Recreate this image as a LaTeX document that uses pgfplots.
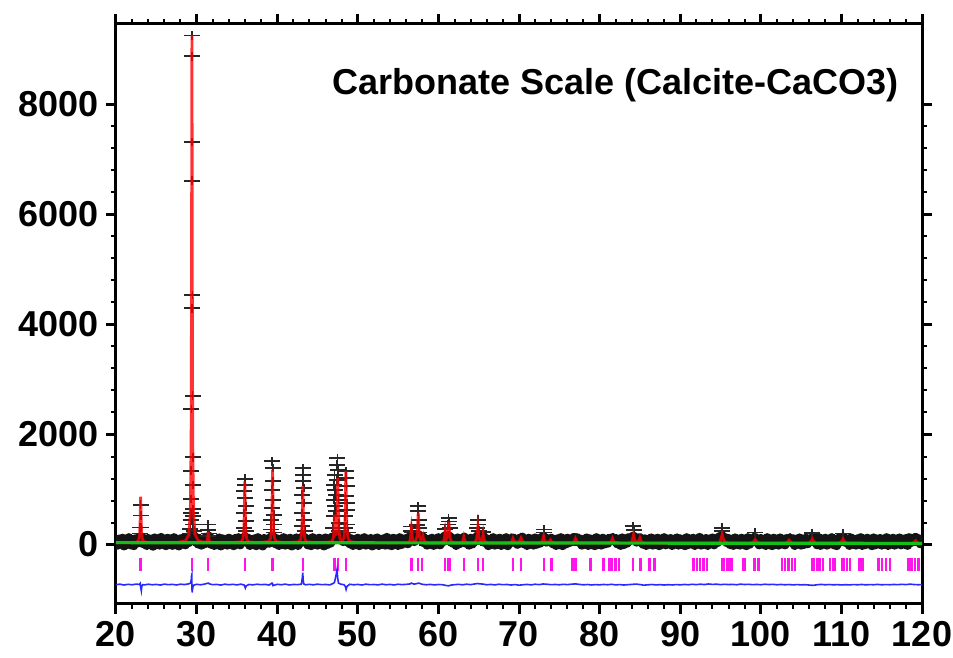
\documentclass[border=0pt]{standalone}
\usepackage{fontspec}
\setmainfont{Liberation Sans}
\usepackage{pgfplots}
\pgfplotsset{compat=1.18}
\definecolor{bkggreen}{RGB}{20,190,20}
\definecolor{diffblue}{RGB}{40,40,255}
\definecolor{tickmag}{RGB}{255,20,235}
\begin{document}
\begin{tikzpicture}
\begin{axis}[
  at={(0,0)}, anchor=south west,
  scale only axis, width=403pt, height=290pt,
  xmin=20, xmax=120, ymin=-1080, ymax=9460,
  xtick={20,30,...,120}, ytick={0,2000,4000,6000,8000},
  minor x tick num=4, minor y tick num=4,
  tick align=outside,
  major tick length=5pt, minor tick length=2.5pt,
  axis line style={line width=1.5pt},
  every tick/.style={black, line width=1.5pt},
  every minor tick/.style={black, line width=1pt},
  tick label style={font=\fontsize{18}{21}\selectfont\bfseries},
  /pgf/number format/assume math mode=true,
  /pgf/number format/1000 sep={},
  scaled y ticks=false,
  clip marker paths=true,
]
% observed, background region (zigzag of the noisy data)
\addplot[black!92, line width=4.8pt, line join=round, mark=+, mark size=4pt, mark options={yscale=0.55, line width=0.9pt, solid}] coordinates {
(20.0,60)(20.2,-5)(20.4,95)(20.6,20)(20.8,110)(21.0,-20)(21.2,75)(21.4,10)(21.6,120)(21.8,0)
(22.0,85)(22.2,-15)(22.4,100)(22.6,30)(22.8,115)(23.0,90)(23.2,130)(23.4,20)(23.6,95)(23.8,-10)
(24.0,105)(24.2,5)(24.4,80)(24.6,-25)(24.8,115)(25.0,15)(25.2,90)(25.4,-5)(25.6,125)(25.8,10)
(26.0,70)(26.2,-15)(26.4,110)(26.6,25)(26.8,95)(27.0,-10)(27.2,120)(27.4,5)(27.6,85)(27.8,-20)
(28.0,100)(28.2,10)(28.4,115)(28.6,0)(28.8,130)(29.0,40)(29.2,150)(29.4,120)(29.6,170)(29.8,60)
(30.0,120)(30.2,15)(30.4,100)(30.6,-5)(30.8,90)(31.0,20)(31.2,130)(31.4,110)(31.6,140)(31.8,10)
(32.0,95)(32.2,-10)(32.4,80)(32.6,15)(32.8,115)(33.0,-20)(33.2,100)(33.4,5)(33.6,90)(33.8,-5)
(34.0,110)(34.2,20)(34.4,75)(34.6,-15)(34.8,105)(35.0,10)(35.2,120)(35.4,0)(35.6,95)(35.8,60)
(36.0,140)(36.2,70)(36.4,110)(36.6,-10)(36.8,85)(37.0,15)(37.2,100)(37.4,-15)(37.6,120)(37.8,5)
(38.0,90)(38.2,-20)(38.4,105)(38.6,25)(38.8,80)(39.0,30)(39.2,125)(39.4,150)(39.6,110)(39.8,20)
(40.0,100)(40.2,-10)(40.4,85)(40.6,10)(40.8,120)(41.0,-5)(41.2,95)(41.4,15)(41.6,110)(41.8,-20)
(42.0,80)(42.2,5)(42.4,115)(42.6,-10)(42.8,100)(43.0,70)(43.2,145)(43.4,60)(43.6,105)(43.8,0)
(44.0,90)(44.2,-15)(44.4,120)(44.6,10)(44.8,75)(45.0,-5)(45.2,110)(45.4,20)(45.6,95)(45.8,-20)
(46.0,115)(46.2,5)(46.4,85)(46.6,30)(46.8,130)(47.0,120)(47.2,160)(47.4,150)(47.6,170)(47.8,90)
(48.0,140)(48.2,60)(48.4,160)(48.6,150)(48.8,120)(49.0,20)(49.2,100)(49.4,-10)(49.6,85)(49.8,10)
(50.0,110)(50.2,-15)(50.4,90)(50.6,15)(50.8,120)(51.0,-5)(51.2,80)(51.4,5)(51.6,105)(51.8,-20)
(52.0,95)(52.2,10)(52.4,115)(52.6,-10)(52.8,85)(53.0,20)(53.2,100)(53.4,-5)(53.6,125)(53.8,0)
(54.0,75)(54.2,-15)(54.4,110)(54.6,15)(54.8,90)(55.0,-10)(55.2,120)(55.4,5)(55.6,95)(55.8,30)
(56.0,105)(56.2,20)(56.4,130)(56.6,140)(56.8,110)(57.0,60)(57.2,150)(57.4,160)(57.6,170)(57.8,90)
(58.0,140)(58.2,40)(58.4,100)(58.6,-5)(58.8,85)(59.0,15)(59.2,110)(59.4,-10)(59.6,95)(59.8,10)
(60.0,120)(60.2,0)(60.4,90)(60.6,60)(60.8,150)(61.0,130)(61.2,160)(61.4,140)(61.6,110)(61.8,30)
(62.0,95)(62.2,-10)(62.4,115)(62.6,20)(62.8,100)(63.0,80)(63.2,130)(63.4,30)(63.6,90)(63.8,-5)
(64.0,110)(64.2,15)(64.4,85)(64.6,70)(64.8,150)(65.0,140)(65.2,130)(65.4,110)(65.6,140)(65.8,40)
(66.0,100)(66.2,-15)(66.4,90)(66.6,10)(66.8,120)(67.0,-5)(67.2,85)(67.4,20)(67.6,110)(67.8,-10)
(68.0,95)(68.2,5)(68.4,120)(68.6,-15)(68.8,90)(69.0,40)(69.2,120)(69.4,100)(69.6,60)(69.8,10)
(70.0,105)(70.2,90)(70.4,130)(70.6,20)(70.8,85)(71.0,-10)(71.2,110)(71.4,15)(71.6,95)(71.8,-5)
(72.0,115)(72.2,10)(72.4,80)(72.6,30)(72.8,120)(73.0,140)(73.2,130)(73.4,50)(73.6,100)(73.8,90)
(74.0,110)(74.2,20)(74.4,85)(74.6,-10)(74.8,100)(75.0,5)(75.2,120)(75.4,-15)(75.6,90)(75.8,15)
(76.0,110)(76.2,40)(76.4,100)(76.6,60)(76.8,125)(77.0,115)(77.2,120)(77.4,50)(77.6,95)(77.8,-5)
(78.0,85)(78.2,10)(78.4,115)(78.6,-10)(78.8,100)(79.0,20)(79.2,90)(79.4,-15)(79.6,120)(79.8,5)
(80.0,95)(80.2,-5)(80.4,110)(80.6,15)(80.8,80)(81.0,30)(81.2,110)(81.4,100)(81.6,125)(81.8,70)
(82.0,105)(82.2,20)(82.4,90)(82.6,-10)(82.8,115)(83.0,5)(83.2,85)(83.4,30)(83.6,120)(83.8,90)
(84.0,130)(84.2,150)(84.4,120)(84.6,50)(84.8,110)(85.0,120)(85.2,80)(85.4,10)(85.6,100)(85.8,-10)
(86.0,90)(86.2,15)(86.4,115)(86.6,-5)(86.8,85)(87.0,20)(87.2,110)(87.4,-15)(87.6,95)(87.8,10)
(88.0,120)(88.2,0)(88.4,90)(88.6,25)(88.8,105)(89.0,-10)(89.2,80)(89.4,15)(89.6,115)(89.8,-5)
(90.0,100)(90.2,10)(90.4,85)(90.6,-15)(90.8,120)(91.0,5)(91.2,95)(91.4,20)(91.6,110)(91.8,-10)
(92.0,90)(92.2,15)(92.4,125)(92.6,-5)(92.8,80)(93.0,10)(93.2,105)(93.4,-10)(93.6,95)(93.8,20)
(94.0,115)(94.2,0)(94.4,100)(94.6,40)(94.8,130)(95.0,140)(95.2,160)(95.4,110)(95.6,120)(95.8,40)
(96.0,105)(96.2,5)(96.4,90)(96.6,-10)(96.8,115)(97.0,15)(97.2,85)(97.4,-5)(97.6,110)(97.8,20)
(98.0,95)(98.2,-15)(98.4,120)(98.6,10)(98.8,90)(99.0,60)(99.2,130)(99.4,110)(99.6,80)(99.8,0)
(100.0,105)(100.2,15)(100.4,85)(100.6,-10)(100.8,120)(101.0,5)(101.2,95)(101.4,-15)(101.6,110)(101.8,10)
(102.0,90)(102.2,-5)(102.4,115)(102.6,20)(102.8,85)(103.0,0)(103.2,105)(103.4,90)(103.6,120)(103.8,80)
(104.0,100)(104.2,-10)(104.4,90)(104.6,15)(104.8,115)(105.0,-5)(105.2,80)(105.4,10)(105.6,110)(105.8,20)
(106.0,95)(106.2,70)(106.4,130)(106.6,110)(106.8,90)(107.0,0)(107.2,120)(107.4,-10)(107.6,85)(107.8,15)
(108.0,110)(108.2,-5)(108.4,95)(108.6,20)(108.8,120)(109.0,5)(109.2,90)(109.4,-15)(109.6,105)(109.8,60)
(110.0,120)(110.2,130)(110.4,110)(110.6,40)(110.8,90)(111.0,-10)(111.2,115)(111.4,10)(111.6,85)(111.8,-5)
(112.0,100)(112.2,15)(112.4,120)(112.6,-10)(112.8,90)(113.0,5)(113.2,110)(113.4,20)(113.6,80)(113.8,-15)
(114.0,115)(114.2,0)(114.4,95)(114.6,25)(114.8,105)(115.0,-5)(115.2,90)(115.4,10)(115.6,120)(115.8,-10)
(116.0,85)(116.2,15)(116.4,110)(116.6,-5)(116.8,95)(117.0,20)(117.2,115)(117.4,0)(117.6,90)(117.8,10)
(118.0,105)(118.2,-10)(118.4,120)(118.6,40)(118.8,110)(119.0,90)(119.2,125)(119.4,60)(119.6,100)(119.8,20)
(120.0,80)
};
% observed, points on the peaks
\addplot[black!85, only marks, mark=+, mark size=4pt, mark options={yscale=0.55, line width=0.9pt}] coordinates {
(22.96,200)(23.00,310)(23.04,725)(23.08,530)(23.12,310)
(29.20,200)(29.24,285)(29.28,441)(29.30,575)(29.32,829)(29.34,1342)(29.36,2462)(29.38,4294)(29.40,7316)(29.42,9252)(29.44,8871)(29.46,6609)(29.48,4535)(29.50,2703)(29.52,1584)(29.54,1083)(29.56,648)(29.58,513)(29.60,363)(29.64,250)
(31.38,150)(31.42,260)(31.46,363)(31.50,200)
(35.86,303)(35.90,575)(35.94,967)(35.98,1197)(36.02,1088)(36.06,847)(36.10,695)(36.14,423)(36.18,250)
(39.24,272)(39.28,453)(39.32,666)(39.36,998)(39.40,1512)(39.44,1391)(39.48,1149)(39.52,816)(39.56,544)(39.60,363)(39.64,220)
(43.04,332)(43.08,575)(43.12,907)(43.16,1391)(43.20,1270)(43.24,1149)(43.28,1028)(43.32,756)(43.36,453)(43.40,250)
(46.96,303)(47.00,513)(47.04,816)(47.08,1088)(47.12,1270)(47.16,998)(47.20,695)(47.26,604)(47.30,907)(47.36,1179)(47.42,1451)(47.48,1572)(47.52,1360)(47.56,1179)(47.60,816)(47.64,393)(47.70,250)
(48.40,300)(48.44,514)(48.48,876)(48.52,1330)(48.56,1210)(48.60,1058)(48.64,756)(48.68,635)(48.72,363)(48.76,220)
(56.60,250)(56.66,330)(56.72,220)(57.40,360)(57.46,604)(57.50,695)(57.54,453)(57.58,300)(57.64,220)
(60.86,280)(61.20,363)(61.26,484)(61.32,420)(61.38,300)
(64.84,300)(64.90,453)(64.96,363)(65.02,250)(65.50,230)
(73.08,272)(73.14,220)
(84.18,333)(84.24,260)
(95.18,308)(95.24,240)
(99.28,220)(106.40,210)(110.20,200)
};
% reflection positions
\addplot[tickmag, only marks, mark=|, mark size=3.35pt, mark options={line width=1.2pt}] coordinates {
(23.06,-362)(29.42,-362)(31.44,-362)(35.98,-362)(39.42,-362)(43.18,-362)(47.12,-362)(47.52,-362)(48.55,-362)
(56.64,-362)(57.50,-362)(58.0,-362)(60.85,-362)(61.25,-362)(61.45,-362)(63.16,-362)(64.9,-362)(65.56,-362)
(69.28,-362)(70.27,-362)(73.08,-362)(74.05,-362)(76.6,-362)(76.75,-362)(76.9,-362)(77.05,-362)(78.86,-362)
(80.5,-362)(81.25,-362)(81.5,-362)(81.96,-362)(82.37,-362)(84.15,-362)(85.06,-362)(86.2,-362)(86.8,-362)
(91.66,-362)(92.07,-362)(92.49,-362)(92.9,-362)(93.31,-362)(95.17,-362)(95.46,-362)(95.79,-362)(96.12,-362)(96.41,-362)
(97.77,-362)(98.06,-362)(99.22,-362)(99.71,-362)(102.6,-362)(103.02,-362)(103.43,-362)(103.85,-362)(104.26,-362)
(106.32,-362)(106.61,-362)(106.94,-362)(107.27,-362)(107.69,-362)(108.6,-362)(108.93,-362)(109.21,-362)
(110.04,-362)(110.33,-362)(110.66,-362)(111.07,-362)(112.23,-362)(112.64,-362)(114.58,-362)(115.0,-362)(115.53,-362)(116.03,-362)
(118.3,-362)(118.72,-362)(119.13,-362)(119.54,-362)
};
% difference curve
\addplot[diffblue, line width=0.8pt] coordinates {
(20.0,-728)(20.5,-720)(21.0,-735)(21.5,-722)(22.0,-731)(22.5,-718)(22.9,-725)(23.0,-705)(23.08,-790)(23.14,-840)(23.2,-760)(23.3,-728)
(23.5,-733)(24.0,-721)(24.5,-730)(25.0,-724)(25.5,-736)(26.0,-719)(26.5,-729)(27.0,-723)(27.5,-734)(28.0,-720)(28.5,-727)(29.0,-715)
(29.25,-700)(29.34,-640)(29.38,-560)(29.41,-545)(29.43,-820)(29.45,-870)(29.50,-800)(29.6,-740)
(30.0,-722)(30.5,-731)(31.0,-718)(31.3,-705)(31.45,-700)(31.6,-715)(32.0,-729)(32.5,-724)(33.0,-736)(33.5,-720)(34.0,-730)(34.5,-722)(35.0,-733)(35.5,-719)
(35.9,-735)(36.0,-770)(36.05,-790)(36.15,-750)(36.5,-726)(37.0,-732)(37.5,-721)(38.0,-729)(38.5,-724)(39.0,-735)
(39.35,-700)(39.42,-705)(39.47,-745)(40.0,-722)(40.5,-730)(41.0,-719)(41.5,-734)(42.0,-725)(42.5,-728)(43.0,-720)
(43.12,-600)(43.17,-510)(43.22,-640)(43.3,-715)(43.5,-730)(44.0,-723)(44.5,-732)(45.0,-720)(45.5,-729)(46.0,-725)(46.5,-733)
(46.9,-710)(47.1,-690)(47.3,-560)(47.42,-455)(47.5,-600)(47.6,-700)(47.9,-720)(48.3,-730)(48.45,-760)(48.55,-816)(48.65,-760)
(49.0,-722)(49.5,-731)(50.0,-724)(50.5,-735)(51.0,-720)(51.5,-729)(52.0,-726)(52.5,-733)(53.0,-719)(53.5,-730)(54.0,-724)(54.5,-734)
(55.0,-721)(55.5,-728)(56.0,-723)(56.5,-715)(56.65,-700)(57.0,-720)(57.45,-705)(57.55,-700)(58.0,-722)(58.5,-730)(59.0,-724)(59.5,-733)
(60.0,-726)(60.5,-729)(61.0,-745)(61.3,-750)(61.5,-738)(62.0,-729)(62.5,-723)(63.0,-731)(63.5,-720)(64.0,-728)(64.5,-716)(64.9,-708)
(65.0,-712)(65.5,-718)(66.0,-730)(66.5,-724)(67.0,-733)(67.5,-721)(68.0,-729)(68.5,-725)(69.0,-735)(69.5,-727)(70.0,-738)(70.5,-730)
(71.0,-724)(71.5,-732)(72.0,-721)(72.5,-728)(73.0,-716)(73.5,-722)(74.0,-729)(74.5,-725)(75.0,-731)(75.5,-722)(76.0,-728)(76.5,-720)
(77.0,-715)(77.5,-724)(78.0,-731)(78.5,-726)(79.0,-734)(79.5,-728)(80.0,-732)(80.5,-725)(81.0,-730)(81.5,-722)(82.0,-733)(82.5,-727)
(83.0,-735)(83.5,-729)(84.0,-724)(84.5,-718)(85.0,-726)(85.5,-738)(86.0,-731)(86.5,-726)(87.0,-733)(87.5,-728)(88.0,-735)(88.5,-729)
(89.0,-734)(89.5,-727)(90.0,-732)(90.5,-725)(91.0,-730)(91.5,-722)(92.0,-728)(92.5,-720)(93.0,-727)(93.5,-716)(94.0,-724)(94.5,-720)
(95.0,-728)(95.5,-722)(96.0,-727)(96.5,-724)(97.0,-730)(97.5,-719)(98.0,-726)(98.5,-722)(99.0,-729)(99.5,-724)(100.0,-730)(100.5,-721)
(101.0,-727)(101.5,-723)(102.0,-730)(102.5,-725)(103.0,-731)(103.5,-726)(104.0,-733)(104.5,-727)(105.0,-732)(105.5,-729)(106.0,-736)
(106.5,-741)(107.0,-730)(107.5,-724)(108.0,-731)(108.5,-726)(109.0,-732)(109.5,-728)(110.0,-734)(110.5,-729)(111.0,-733)(111.5,-727)
(112.0,-731)(112.5,-725)(113.0,-732)(113.5,-728)(114.0,-730)(114.5,-724)(115.0,-731)(115.5,-727)(116.0,-730)(116.5,-725)(117.0,-729)
(117.5,-722)(118.0,-728)(118.5,-719)(119.0,-726)(119.5,-730)(120.0,-728)
};
% calculated profile
\addplot[red, line width=1.4pt, opacity=0.8] coordinates {
(20,35)(21,35)(22,34)(22.58,46)(22.82,82)(22.94,200)(23.00,451)(23.03,703)(23.06,870)(23.09,703)(23.12,451)(23.18,200)(23.30,82)(23.54,46)
(24.5,35)(26,34)(27.5,36)(28.62,69)(29.02,175)(29.22,575)(29.32,1877)(29.37,4643)(29.395,7409)(29.42,9252)(29.445,7409)(29.47,4643)(29.52,1877)(29.62,575)(29.82,175)
(30.22,70)(30.8,45)(31.20,45)(31.32,72)(31.38,132)(31.44,230)(31.50,132)(31.56,72)(31.68,45)(32.5,34)(34,33)
(35.50,50)(35.74,99)(35.86,256)(35.92,591)(35.95,926)(35.98,1150)(36.01,926)(36.04,591)(36.10,256)(36.22,99)(36.46,50)(37.5,33)
(38.94,53)(39.18,111)(39.30,298)(39.36,697)(39.39,1095)(39.42,1360)(39.45,1095)(39.48,697)(39.54,298)(39.66,111)(39.90,53)(41,33)
(42.66,49)(42.92,93)(43.05,238)(43.115,547)(43.15,855)(43.18,1060)(43.21,855)(43.245,547)(43.31,238)(43.44,93)(43.70,49)(45,33)
(46.60,46)(46.86,72)(46.99,146)(47.055,295)(47.09,455)(47.12,543)(47.15,464)(47.20,270)(47.26,186)(47.33,197)(47.39,291)(47.455,630)
(47.49,1005)(47.52,1205)(47.55,1001)(47.585,622)(47.65,280)(47.78,111)(47.95,76)(48.13,81)(48.26,118)(48.39,296)(48.455,683)(48.49,1107)
(48.52,1333)(48.55,1107)(48.585,683)(48.65,296)(48.78,118)(49.04,53)(50,34)(52,32)(54,31)
(56.05,34)(56.35,46)(56.50,84)(56.575,165)(56.61,246)(56.65,300)(56.69,250)(56.725,172)(56.80,95)(56.95,62)(57.2,70)(57.35,145)(57.425,310)
(57.46,474)(57.50,580)(57.54,474)(57.575,310)(57.65,150)(57.80,85)(57.93,100)(58.00,125)(58.08,160)(58.16,100)(58.3,52)(58.6,36)(59.2,31)
(60.2,34)(60.53,45)(60.69,74)(60.77,140)(60.81,206)(60.85,250)(60.89,210)(60.93,150)(61.01,110)(61.14,160)(61.22,218)(61.26,330)(61.30,410)
(61.34,330)(61.38,218)(61.46,105)(61.62,52)(61.95,36)(62.5,30)(62.8,35)(62.97,50)(63.06,84)(63.15,140)(63.24,84)(63.33,50)(63.6,35)
(64.3,32)(64.54,46)(64.72,89)(64.81,180)(64.855,272)(64.90,335)(64.945,275)(64.99,185)(65.08,100)(65.2,70)(65.35,80)(65.46,115)(65.55,200)
(65.64,115)(65.73,68)(65.9,40)(66.4,30)(67.6,29)(68.8,32)(69.05,45)(69.15,69)(69.25,110)(69.35,69)(69.45,50)(69.7,45)(69.95,50)(70.1,68)
(70.25,120)(70.4,72)(70.5,48)(70.8,32)(71.7,28)(72.5,31)(72.85,52)(72.95,89)(73.05,150)(73.15,89)(73.25,52)(73.5,42)(73.7,48)(73.8,60)
(73.9,80)(74.0,60)(74.1,45)(74.5,30)(75.5,28)(76.5,30)(76.78,45)(76.89,69)(77.0,110)(77.11,69)(77.22,45)(77.6,30)(79.5,27)
(81.1,28)(81.38,45)(81.49,69)(81.60,110)(81.71,69)(81.82,45)(82.2,28)(83.6,28)(83.98,40)(84.09,105)(84.2,181)(84.31,105)(84.42,60)
(84.6,50)(84.78,58)(84.89,74)(85.0,120)(85.11,74)(85.22,48)(85.6,28)(88,26)(91,26)(94.6,26)(94.92,40)(95.06,103)(95.2,181)(95.34,103)
(95.48,58)(95.9,30)(97.5,25)(98.8,25)(99.15,57)(99.3,90)(99.45,57)(99.8,25)(101.5,24)(103.0,24)(103.35,50)(103.5,80)(103.65,50)(104.0,24)
(105.9,24)(106.25,60)(106.4,100)(106.55,60)(106.9,24)(108.3,23)(109.7,23)(110.05,60)(110.2,100)(110.35,60)(110.7,23)(113,22)(116,22)
(118.7,22)(119.05,45)(119.2,70)(119.35,45)(119.7,22)(120,21)
};
% background
\addplot[bkggreen, line width=1.6pt] coordinates {
(20,35)(40,33)(60,30)(80,27)(100,24)(120,21)
};
\node[anchor=base east, font=\fontsize{18}{21}\selectfont\bfseries] at (rel axis cs:0.98,0.878) {Carbonate Scale (Calcite-CaCO3)};
\end{axis}
\pgfresetboundingbox
\path[use as bounding box] (-58pt,-27pt) rectangle (418.5pt,302pt);
\end{tikzpicture}
\end{document}
